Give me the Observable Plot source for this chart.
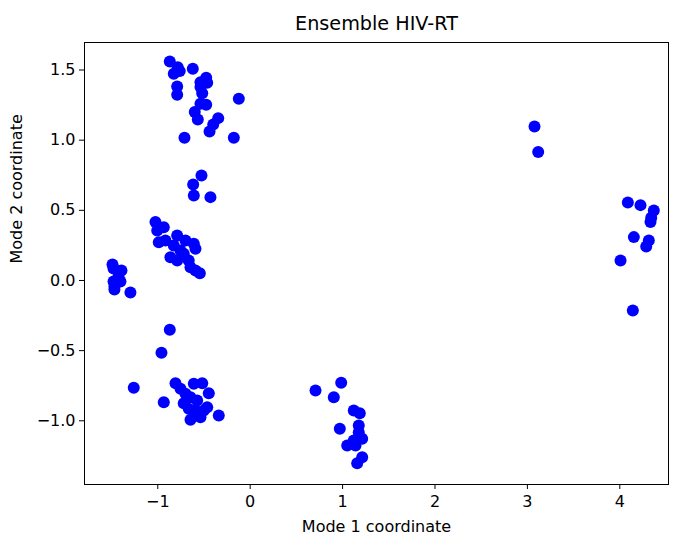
<!DOCTYPE html>
<html><head><meta charset="utf-8">
<script src="https://cdn.jsdelivr.net/npm/d3@7"></script>
<script src="https://cdn.jsdelivr.net/npm/@observablehq/plot@0.6"></script>
<style>body{margin:0;background:#fff}</style>
</head><body><div id="chart"></div>
<script>
const mode1 = [
  -0.870,-0.784,-0.762,-0.827,-0.621,-0.476,-0.538,-0.465,-0.790,-0.790,-0.538,-0.519,-0.123,-0.538,-0.476,-0.600,-0.567,-0.346,-0.400,-0.440,-0.711,-0.177,-0.527,-0.617,-0.610,-0.430,
  -1.025,-0.935,-1.006,-0.989,-0.917,-0.790,-0.700,-0.610,-0.592,-0.863,-0.790,-0.719,-0.665,-0.646,-0.592,-0.545,-0.754,-0.827,
  -1.490,-1.479,-1.393,-1.425,-1.479,-1.404,-1.469,-1.469,-1.296,
  -0.870,-0.960,-1.260,-0.935,-0.340,-0.808,-0.754,-0.610,-0.519,-0.448,-0.719,-0.646,-0.574,-0.665,-0.592,-0.502,-0.646,-0.538,-0.465,-0.700,
  0.707,0.985,0.905,1.121,1.186,0.970,1.175,1.175,1.212,1.121,1.050,1.140,1.212,1.158,
  3.077,3.117,4.087,4.224,4.368,4.340,4.332,4.152,4.314,4.286,4.008,4.141
];
const mode2 = [
  1.561,1.520,1.492,1.473,1.509,1.445,1.413,1.409,1.383,1.324,1.378,1.335,1.295,1.259,1.252,1.200,1.148,1.157,1.112,1.062,1.017,1.017,0.748,0.684,0.606,0.594,
  0.416,0.380,0.356,0.273,0.285,0.321,0.285,0.262,0.226,0.166,0.143,0.190,0.143,0.095,0.071,0.052,0.214,0.249,
  0.114,0.086,0.071,0.029,-0.007,-0.007,-0.043,-0.064,-0.086,
  -0.351,-0.515,-0.765,-0.867,-0.962,-0.732,-0.772,-0.736,-0.732,-0.803,-0.875,-0.832,-0.855,-0.915,-0.927,-0.927,-0.993,-0.974,-0.903,-0.808,
  -0.784,-0.729,-0.832,-0.927,-0.946,-1.057,-1.033,-1.081,-1.128,-1.140,-1.176,-1.176,-1.259,-1.302,
  1.098,0.915,0.556,0.537,0.499,0.447,0.416,0.309,0.285,0.242,0.143,-0.214
];
const xTicks = [-1, 0, 1, 2, 3, 4];
const yTicks = [-1.0, -0.5, 0.0, 0.5, 1.0, 1.5];
const titleText = "Ensemble HIV-RT";
const xLabel = "Mode 1 coordinate";
const yLabel = "Mode 2 coordinate";

const points = mode1.map((x, i) => ({x, y: mode2[i]}));
const minus = s => s.replace("-", "\u2212");

const chart = Plot.plot({
  width: 679, height: 535,
  marginLeft: 84, marginRight: 11, marginTop: 42, marginBottom: 51,
  style: {fontFamily: "DejaVu Sans", fontSize: "16px", color: "#000", background: "#fff", overflow: "visible"},
  x: {domain: [-1.793, 4.527]},
  y: {domain: [-1.454, 1.696]},
  marks: [
    Plot.dot(points, {x: "x", y: "y", r: 6, fill: "#0000ff", stroke: "none"}),
    Plot.frame({stroke: "#000", strokeWidth: 1}),
    Plot.axisX({ticks: xTicks, tickSize: 5, tickPadding: 6, tickFormat: d => minus(String(d)), label: null, fontSize: 16}),
    Plot.axisY({ticks: yTicks, tickSize: 5, tickPadding: 4, tickFormat: d => minus(d.toFixed(1)), label: null, fontSize: 16}),
    Plot.text([titleText], {frameAnchor: "top", dy: -19, text: d => d, fontSize: 19.2, lineAnchor: "middle"}),
    Plot.text([xLabel], {frameAnchor: "bottom", dy: 42, text: d => d, fontSize: 16, lineAnchor: "middle"}),
    Plot.text([yLabel], {frameAnchor: "left", dx: -68, rotate: -90, text: d => d, fontSize: 16, lineAnchor: "middle"})
  ]
});
document.getElementById("chart").appendChild(chart);
</script>
</body></html>
